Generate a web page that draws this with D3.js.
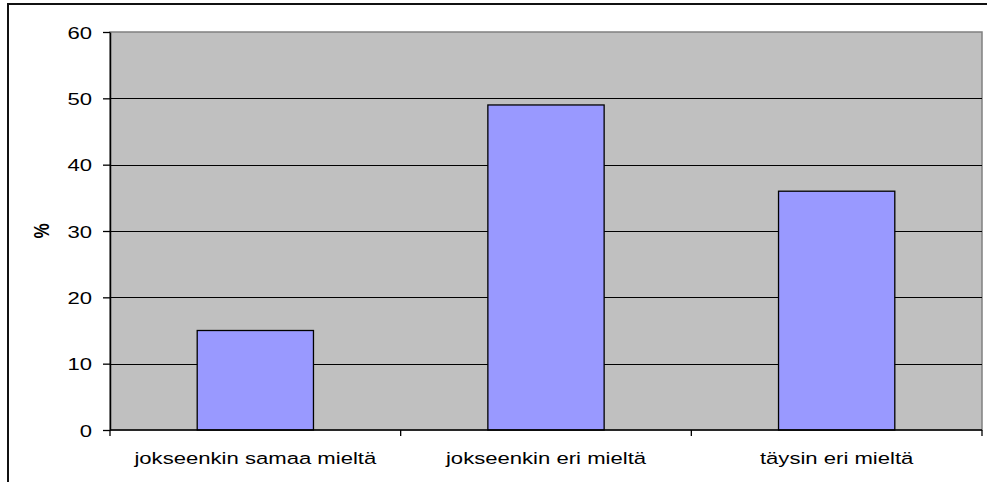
<!DOCTYPE html>
<html>
<head>
<meta charset="utf-8">
<script src="https://cdn.jsdelivr.net/npm/d3@7/dist/d3.min.js"></script>
<style>
  html, body { margin: 0; padding: 0; background: #fff; }
  svg { display: block; }
</style>
</head>
<body>
<svg id="chart" width="987" height="482"></svg>
<script>
// Vastausjakauma (%)
const categories = ["jokseenkin samaa mieltä", "jokseenkin eri mieltä", "täysin eri mieltä"];
const values = [15, 49, 36];
const yTicks = [0, 10, 20, 30, 40, 50, 60];
const yLabel = "%";

const svg = d3.select("#chart");
const font = "'Liberation Sans', Arial, sans-serif";
const fontSize = 17;
const stretch = 1.3; // text is drawn slightly widened

// outer chart border (runs off the right and bottom edges)
svg.append("rect")
  .attr("x", 8).attr("y", 4)
  .attr("width", 990).attr("height", 490)
  .attr("fill", "#fff").attr("stroke", "#111").attr("stroke-width", 2);

const plot = { left: 110, top: 32, right: 982, bottom: 430 };

const x = d3.scaleBand()
  .domain(categories)
  .range([plot.left, plot.right])
  .paddingInner(0.6).paddingOuter(0.3);

const xBand = d3.scaleBand()
  .domain(categories)
  .range([plot.left, plot.right]);

const y = d3.scaleLinear().domain([0, 60]).range([plot.bottom, plot.top]);

// plot background
svg.append("rect")
  .attr("x", plot.left).attr("y", plot.top)
  .attr("width", plot.right - plot.left).attr("height", plot.bottom - plot.top)
  .attr("fill", "#C0C0C0").attr("stroke", "#808080").attr("stroke-width", 1.5);

// horizontal gridlines
svg.append("g")
  .selectAll("line")
  .data(yTicks.filter(t => t > 0 && t < 60))
  .join("line")
  .attr("x1", plot.left).attr("x2", plot.right)
  .attr("y1", d => Math.round(y(d)) + 0.5).attr("y2", d => Math.round(y(d)) + 0.5)
  .attr("stroke", "#000").attr("stroke-width", 1);

// bars
svg.append("g")
  .selectAll("rect")
  .data(values)
  .join("rect")
  .attr("x", (d, i) => x(categories[i]))
  .attr("y", d => y(d))
  .attr("width", x.bandwidth())
  .attr("height", d => y(0) - y(d))
  .attr("fill", "#9999FF")
  .attr("stroke", "#000").attr("stroke-width", 1.3);

// y axis
const yAxis = d3.axisLeft(y).tickValues(yTicks).tickSize(7).tickSizeOuter(0);
const gy = svg.append("g").attr("transform", `translate(${plot.left},0)`).call(yAxis);
gy.select(".domain").attr("stroke", "#000").attr("stroke-width", 1.5);
gy.selectAll(".tick line").attr("stroke", "#000").attr("stroke-width", 1.3);
gy.selectAll(".tick text")
  .attr("x", null).attr("dy", null)
  .attr("transform", `translate(-18,6) scale(${stretch},1)`)
  .attr("text-anchor", "end")
  .attr("font-family", font).attr("font-size", fontSize).attr("fill", "#000");

// x axis: ticks at category boundaries
const gx = svg.append("g").attr("transform", `translate(0,${plot.bottom})`);
gx.append("line")
  .attr("x1", plot.left).attr("x2", plot.right)
  .attr("stroke", "#000").attr("stroke-width", 1.5);
const bounds = categories.map(c => xBand(c)).concat([plot.right]);
gx.selectAll("line.b")
  .data(bounds)
  .join("line").attr("class", "b")
  .attr("x1", d => d).attr("x2", d => d)
  .attr("y1", 0).attr("y2", 6)
  .attr("stroke", "#000").attr("stroke-width", 1.3);
gx.selectAll("text")
  .data(categories)
  .join("text")
  .attr("transform", d => `translate(${xBand(d) + xBand.bandwidth() / 2},34) scale(${stretch},1)`)
  .attr("text-anchor", "middle")
  .attr("font-family", font).attr("font-size", fontSize).attr("fill", "#000")
  .text(d => d);

// y axis title
svg.append("text")
  .attr("transform", `translate(49,${(plot.top + plot.bottom) / 2}) scale(${stretch},1) rotate(-90)`)
  .attr("text-anchor", "middle")
  .attr("font-family", font).attr("font-size", fontSize).attr("font-weight", "bold")
  .text(yLabel);
</script>
</body>
</html>
